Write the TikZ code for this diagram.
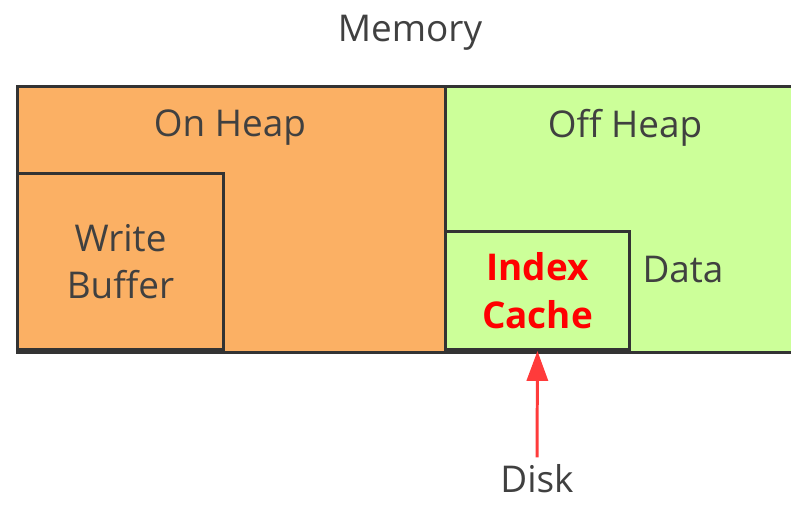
\documentclass[tikz,border=0pt]{standalone}
\usepackage{xcolor}
\usepackage{fontspec}
\setmainfont{Open Sans}
\usetikzlibrary{arrows.meta}
\definecolor{onheapcol}{HTML}{FBB064}
\definecolor{offheapcol}{HTML}{CCFF99}
\definecolor{edgecol}{HTML}{333333}
\definecolor{textcol}{HTML}{404040}
\definecolor{diskred}{HTML}{FF3B3B}
\tikzstyle{heapbox} = [rectangle, draw=edgecol, line width=1.7pt, inner sep=0pt, align=center, text=textcol]
\tikzstyle{label} = [text=textcol, inner sep=0pt]
\tikzstyle{arrow} = [draw=diskred, line width=1.7pt, -{Triangle[width=12pt,length=17pt]}]

\begin{document}
\begin{tikzpicture}[x=0.02cm, y=-0.02cm, font=\fontsize{21}{26.5}\selectfont]
\useasboundingbox (0,0) rectangle (791,504);
\clip (0,0) rectangle (791,504);
\node (onheap) [heapbox, fill=onheapcol, minimum width=8.56cm, minimum height=5.32cm, anchor=north west] at (16,85) {};
\node (offheap) [heapbox, fill=offheapcol, minimum width=7.4cm, minimum height=5.32cm, anchor=north west] at (444,85) {};
\node (writebuf) [heapbox, fill=onheapcol, minimum width=4.12cm, minimum height=3.52cm, anchor=south west] at (16,351) {Write\\Buffer};
\node (idxcache) [heapbox, fill=offheapcol, minimum width=3.68cm, minimum height=2.36cm, anchor=south west, text=red, font=\fontsize{21}{27}\selectfont\bfseries] at (444,351) {Index\\Cache};

\node (memory) [label] at (410,33) {Memory};
\node (onheap_lbl) [label] at (230,128) {On Heap};
\node (offheap_lbl) [label] at (625,128) {Off Heap};
\node (data) [label] at (683,270) {Data};
\node (disk) [label] at (537,479) {Disk};

\draw[arrow, shorten <=4pt] (disk.north) -- (idxcache.south);
\end{tikzpicture}
\end{document}
